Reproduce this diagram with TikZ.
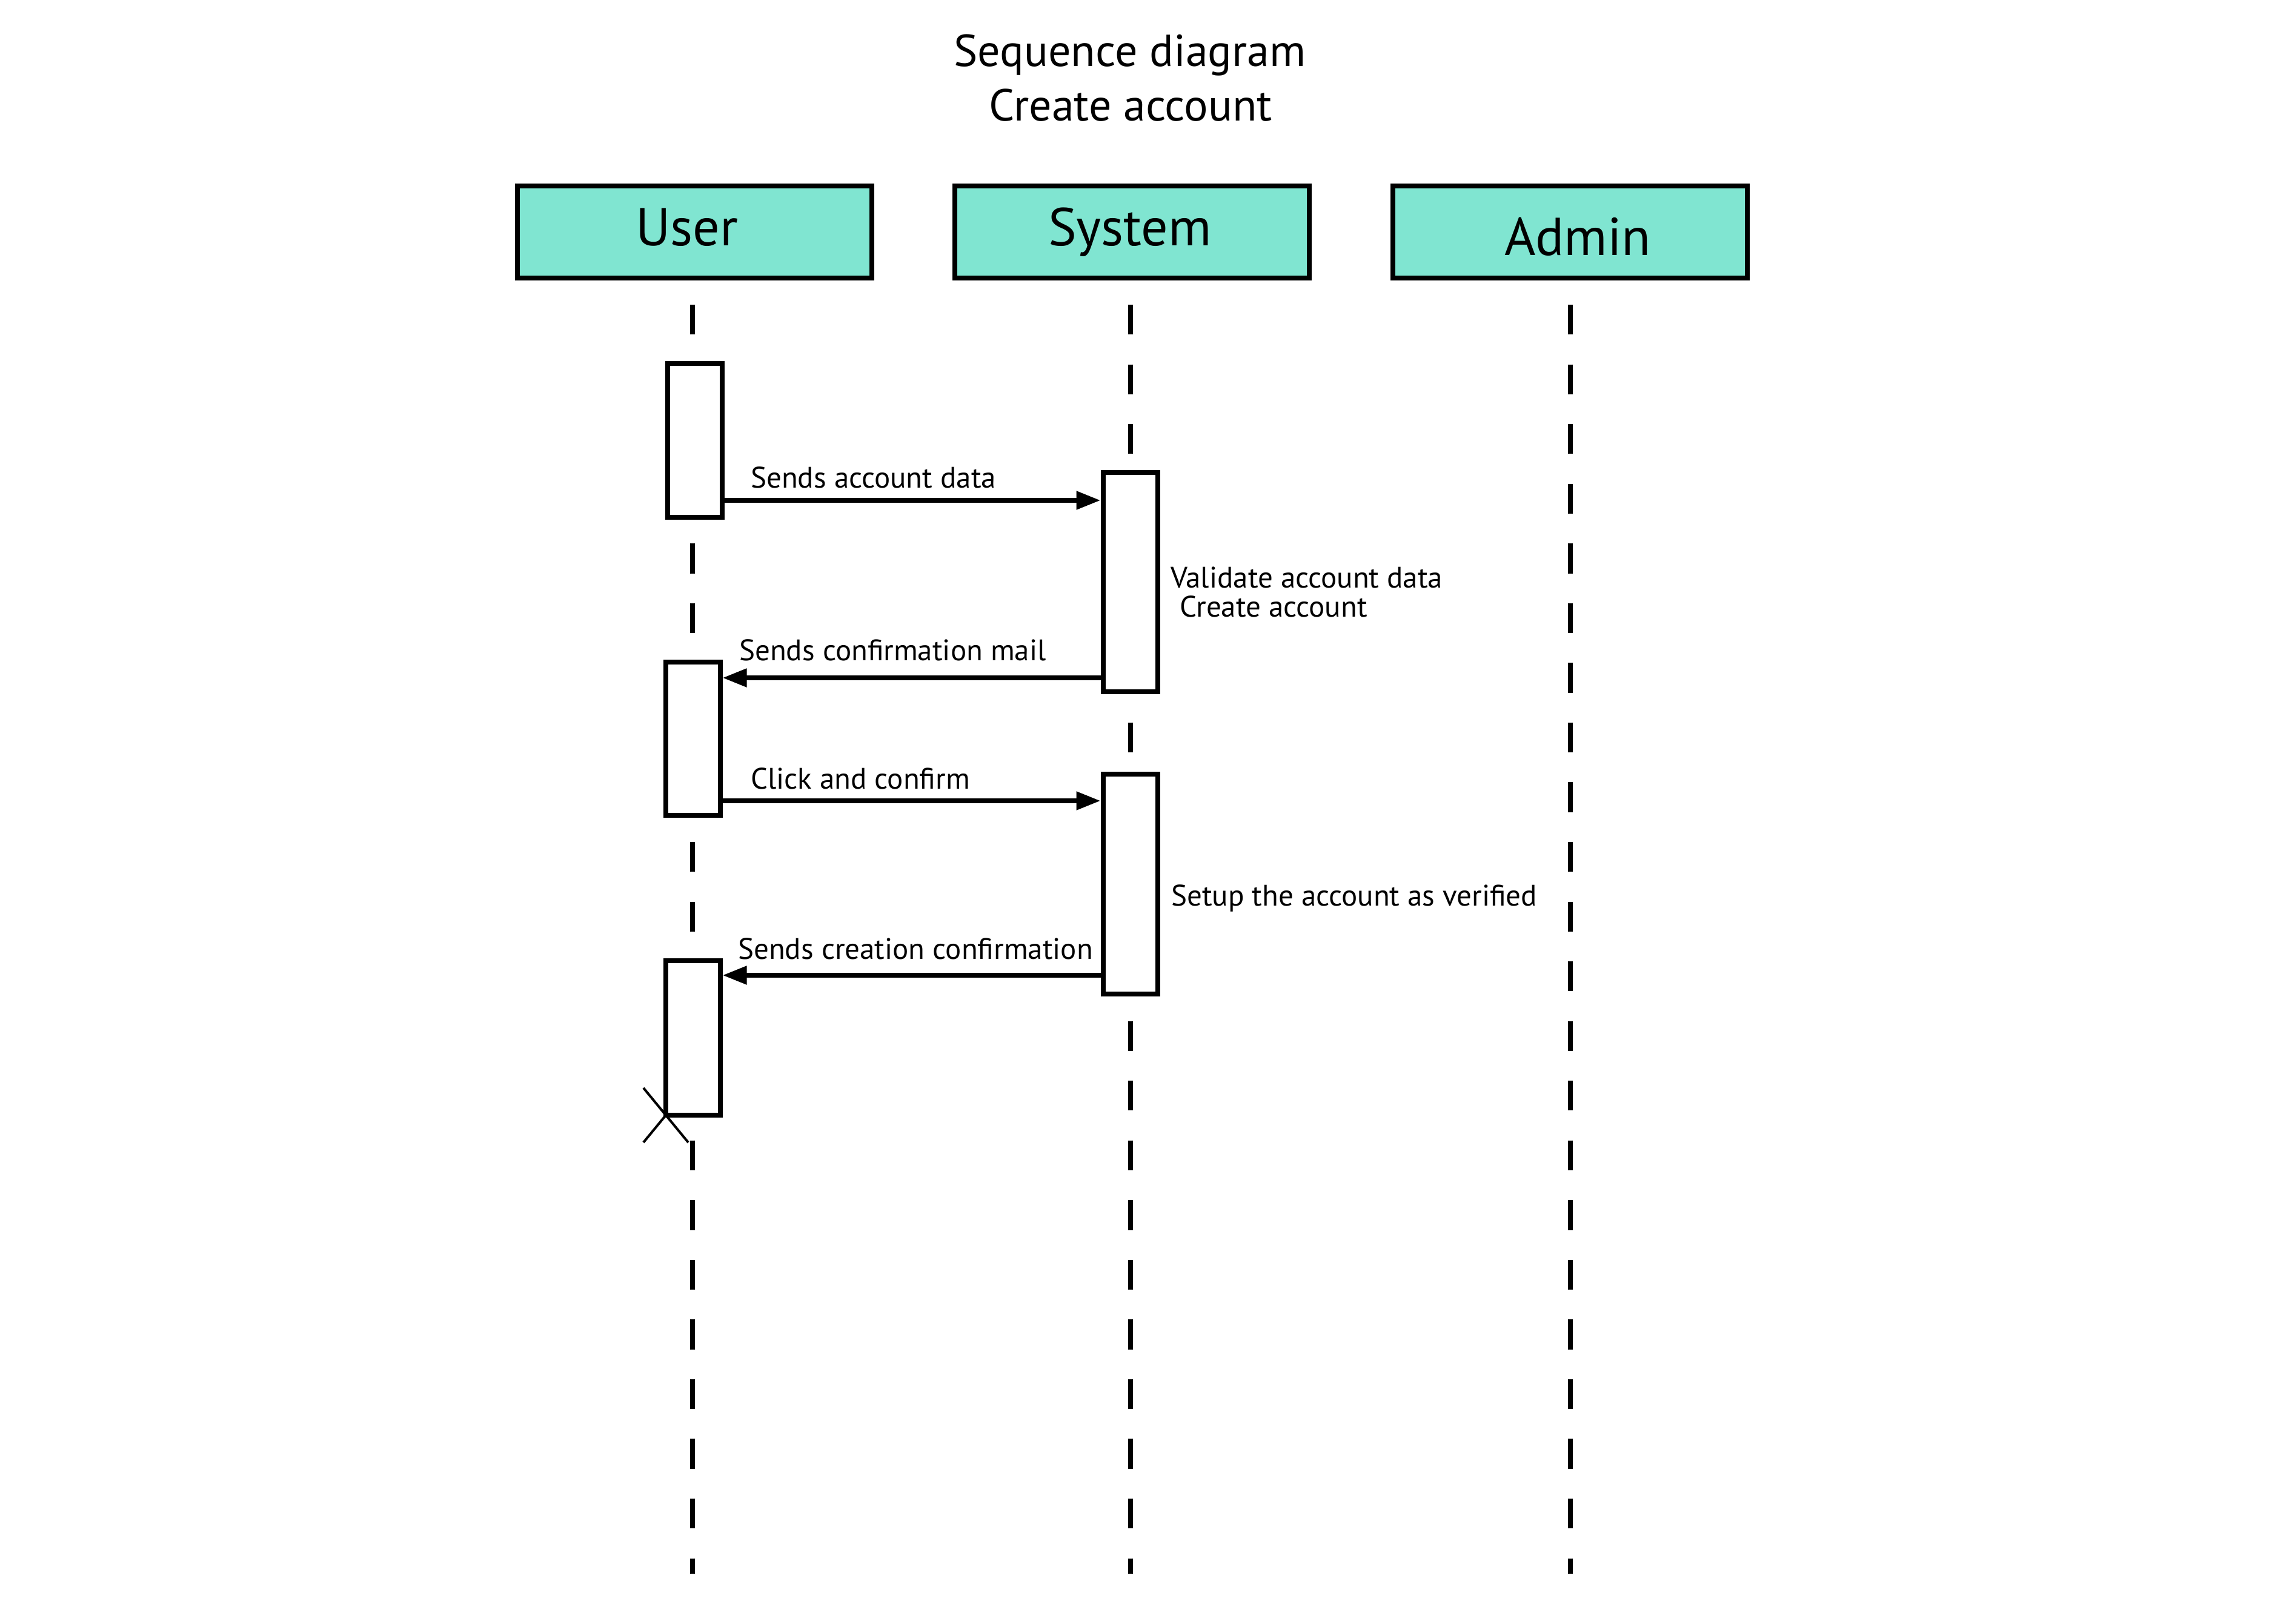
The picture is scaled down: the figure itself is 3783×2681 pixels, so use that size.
\documentclass[tikz,border=0pt]{standalone}
\usepackage{fontspec}
\setmainfont{PT Sans}
\usetikzlibrary{arrows.meta}
\definecolor{actorfill}{RGB}{128,229,209}
\tikzset{
  actorbox/.style={draw=black, line width=8pt, fill=actorfill, minimum width=585pt, minimum height=152pt, inner sep=0pt},
  actortext/.style={anchor=base, inner sep=0pt, font=\fontsize{88}{100}\selectfont},
  actbox/.style={draw=black, line width=8pt, fill=white, minimum width=90pt, inner sep=0pt},
  lifeline/.style={line width=8pt, dash pattern=on 49.3pt off 49.25pt},
  msg/.style={line width=8pt, -{Triangle[length=40pt,width=29pt]}},
  msgtext/.style={anchor=base west, inner sep=0pt, font=\fontsize{49}{56}\selectfont},
  titletext/.style={anchor=base, inner sep=0pt, font=\fontsize{74}{90}\selectfont},
  destroy/.style={line width=4pt}
}
\begin{document}
\begin{tikzpicture}[x=1pt,y=-1pt]
\useasboundingbox (0,0) rectangle (3783,2681);
% title
\node[titletext] (t1) at (1865,110) {Sequence diagram};
\node[titletext] (t2) at (1866,200) {Create account};
% actors
\node[actorbox] (user) at (1146.5,383) {};
\node[actorbox] (system) at (1868.5,383) {};
\node[actorbox] (admin) at (2591,383) {};
\node[actortext] (userlbl) at (1134,405) {User};
\node[actortext] (systemlbl) at (1865,405) {System};
\node[actortext] (adminlbl) at (2604,421) {Admin};
% lifelines
\coordinate (utop) at (1143,503);
\coordinate (ubot) at (1143,2598);
\coordinate (stop) at (1865.5,503);
\coordinate (sbot) at (1865.5,2598);
\coordinate (atop) at (2591.5,503);
\coordinate (abot) at (2591.5,2598);
\draw[lifeline] (utop) -- (ubot);
\draw[lifeline] (stop) -- (sbot);
\draw[lifeline] (atop) -- (abot);
% destruction mark (behind last activation)
\coordinate (xc) at (1099,1841);
\draw[destroy] ([shift={(-37,-45)}]xc) -- ([shift={(37,45)}]xc);
\draw[destroy] ([shift={(-37,45)}]xc) -- ([shift={(37,-45)}]xc);
% activation boxes
\node[actbox, minimum height=254pt] (u1) at (1147,727) {};
\node[actbox, minimum height=362pt] (s1) at (1865.5,961) {};
\node[actbox, minimum height=253pt] (u2) at (1143.5,1219.5) {};
\node[actbox, minimum height=363pt] (s2) at (1865.5,1459.5) {};
\node[actbox, minimum height=255pt] (u3) at (1143.5,1713.5) {};
% messages
\draw[msg] (u1.east |- 0,826) -- (s1.west |- 0,826);
\draw[msg] (s1.west |- 0,1119) -- (u2.east |- 0,1119);
\draw[msg] (u2.east |- 0,1322) -- (s2.west |- 0,1322);
\draw[msg] (s2.west |- 0,1610) -- (u3.east |- 0,1610);
% labels
\node[msgtext] (m1) at (1239,805) {Sends account data};
\node[msgtext] (m2) at (1220,1090) {Sends confirmation mail};
\node[msgtext] (m3) at (1239,1302) {Click and confirm};
\node[msgtext] (m4) at (1218,1583) {Sends creation confirmation};
\node[msgtext] (n1) at (1932,970) {Validate account data};
\node[msgtext] (n2) at (1947,1018) {Create account};
\node[msgtext] (n3) at (1933,1495) {Setup the account as verified};
\end{tikzpicture}
\end{document}
